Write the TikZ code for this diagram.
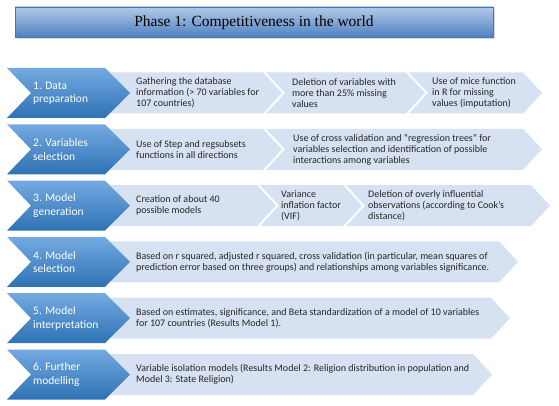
\documentclass[tikz,border=0pt]{standalone}
\usepackage{fontspec}
\setmainfont{Liberation Serif}
\newfontfamily\carlito{Carlito}
\usetikzlibrary{shadows}
\definecolor{stepTop}{RGB}{116,170,224}
\definecolor{stepBot}{RGB}{46,114,181}
\definecolor{infoFill}{RGB}{214,225,241}
\definecolor{titleTop}{RGB}{178,201,231}
\definecolor{titleBot}{RGB}{80,129,192}
\definecolor{titleLine}{RGB}{70,120,185}

\begin{document}
\begin{tikzpicture}[x=1pt, y=-1pt,
        titlebox/.style={draw=titleLine, line width=0.8pt, top color=titleTop, bottom color=titleBot,
            drop shadow={shadow xshift=1.5pt, shadow yshift=-2pt, opacity=0.3}},
        stepshape/.style={top color=stepTop, bottom color=stepBot},
        infoshape/.style={fill=infoFill},
        steplabel/.style={anchor=west, align=left, inner sep=0pt, text=white, font=\carlito\fontsize{11.5}{13.5}\selectfont},
        infolabel/.style={anchor=west, align=left, inner sep=0pt, text=black!85, font=\carlito\fontsize{10}{11}\selectfont}
    ]
        \useasboundingbox (0,0) rectangle (559,406);
        % title bar
        \path[titlebox] (15,7) rectangle (493,37);
        \node[font=\fontsize{15.5}{18}\selectfont] (title) at (254,22.5) {Phase 1: Competitiveness in the world};
        % light chevrons: row centre / left / right
        \foreach \cy/\l/\r in {93/110/263, 93/266/406, 93/409/523,
                149.3/110/263, 149.3/266/523,
                205.6/110/257, 205.6/260/343, 205.6/346/531,
                261.9/110/499, 318.2/110/491, 374.5/110/473}
            \fill[infoshape] (\l,\cy-20.5) -- (\r,\cy-20.5) -- (\r+19,\cy) -- (\r,\cy+20.5)
                -- (\l,\cy+20.5) -- (\l+19,\cy) -- cycle;
        % blue chevrons
        \foreach \cy in {93, 149.3, 205.6, 261.9, 318.2, 374.5}
            \shade[stepshape] (7,\cy-25) -- (105,\cy-25) -- (130,\cy) -- (105,\cy+25)
                -- (7,\cy+25) -- (31,\cy) -- cycle;
        % stage names
        \node[steplabel] (prep) at (33,93) {1. Data\\preparation};
        \node[steplabel] (varsel) at (33,149.3) {2. Variables\\selection};
        \node[steplabel] (modgen) at (33,205.6) {3. Model\\generation};
        \node[steplabel] (modsel) at (33,261.9) {4. Model\\selection};
        \node[steplabel] (modint) at (33,318.2) {5. Model\\interpretation};
        \node[steplabel] (further) at (33,374.5) {6. Further\\modelling};
        % stage contents
        \node[infolabel] (gather) at (136,93) {Gathering the database\\information (> 70 variables for\\107 countries)};
        \node[infolabel] (delvar) at (292,93) {Deletion of variables with\\more than 25\% missing\\values};
        \node[infolabel] (mice) at (432,93) {Use of mice function\\in R for missing\\values (imputation)};
        \node[infolabel] (stepfun) at (136,149.3) {Use of Step and regsubsets\\functions in all directions};
        \node[infolabel] (crossval) at (293,149.3) {Use of cross validation and “regression trees” for\\variables selection and identification of possible\\interactions among variables};
        \node[infolabel] (create) at (136,205.6) {Creation of about 40\\possible models};
        \node[infolabel] (vif) at (281,205.6) {Variance\\inflation factor\\(VIF)};
        \node[infolabel] (cook) at (368,205.6) {Deletion of overly influential\\observations (according to Cook’s\\distance)};
        \node[infolabel] (criteria) at (136,261.9) {Based on r squared, adjusted r squared, cross validation (in particular, mean squares of\\prediction error based on three groups) and relationships among variables significance.};
        \node[infolabel] (estim) at (136,318.2) {Based on estimates, significance, and Beta standardization of a model of 10 variables\\for 107 countries (Results Model 1).};
        \node[infolabel] (isol) at (136,374.5) {Variable isolation models (Results Model 2: Religion distribution in population and\\Model 3: State Religion)};
    \end{tikzpicture}
\end{document}
